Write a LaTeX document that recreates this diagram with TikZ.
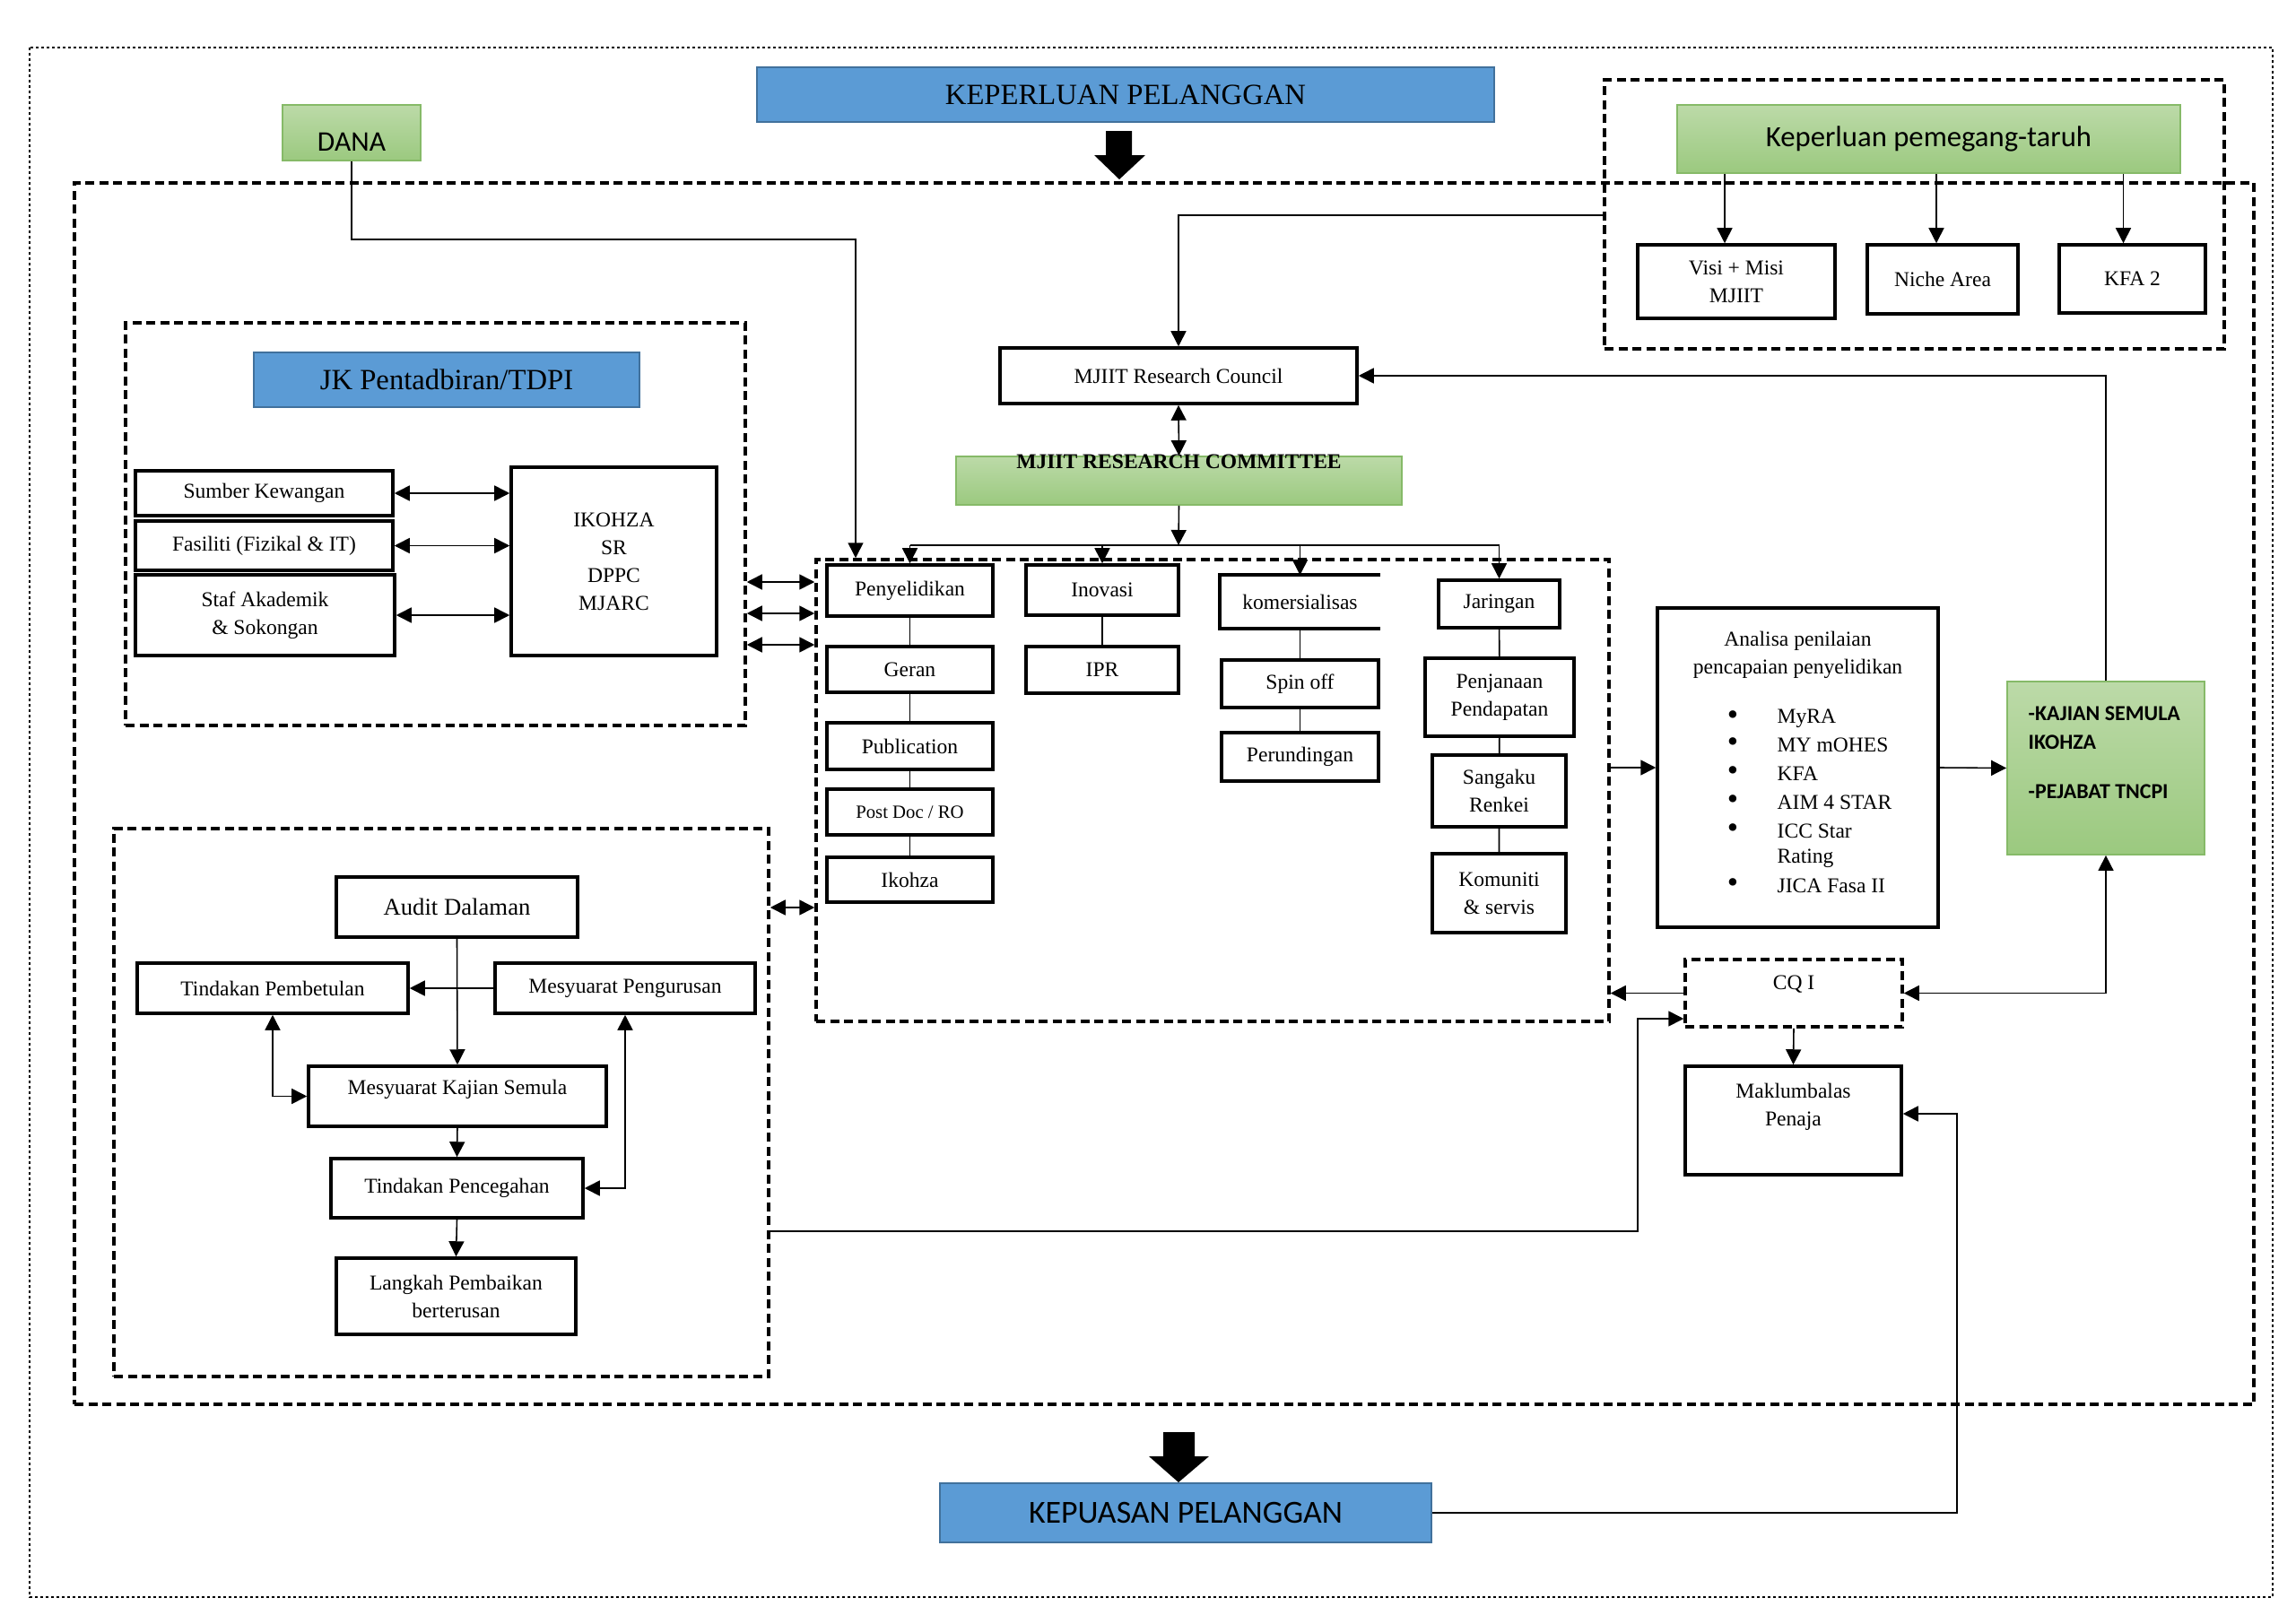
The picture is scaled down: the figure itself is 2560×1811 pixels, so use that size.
\documentclass[tikz,border=0pt]{standalone}
\usepackage{fontspec}
\setmainfont{Liberation Serif}
\newfontfamily\calibri{Carlito}
\usetikzlibrary{arrows.meta, positioning, calc}
\definecolor{titleBlue}{RGB}{91,155,213}
\definecolor{titleBlueLine}{RGB}{65,113,156}
\definecolor{greenTop}{RGB}{188,218,168}
\definecolor{greenBot}{RGB}{155,201,127}
\definecolor{greenLine}{RGB}{134,186,104}
\newcommand{\txt}{\fontsize{6.7}{8.8}\selectfont}
\newcommand{\txtBig}{\fontsize{9.3}{11}\selectfont}
\tikzstyle{box}=[draw=black, line width=1pt, inner sep=1pt, align=center, font=\txt]
\tikzstyle{blueBox}=[fill=titleBlue, draw=titleBlueLine, line width=0.5pt, font=\txtBig]
\tikzstyle{greenBox}=[top color=greenTop, bottom color=greenBot, draw=greenLine, line width=0.5pt]
\tikzstyle{groupBox}=[draw=black, line width=1pt, dash pattern=on 1mm off 0.55mm]
\tikzstyle{conn}=[line width=0.45pt]
\tikzstyle{arrow}=[conn, -{Triangle[length=1.7mm, width=1.7mm]}]
\tikzstyle{biarrow}=[conn, {Triangle[length=1.7mm, width=1.7mm]}-{Triangle[length=1.7mm, width=1.7mm]}]
\begin{document}
\begin{tikzpicture}[x=0.1mm, y=-0.1mm]
      \useasboundingbox (0,0) rectangle (2560,1811);
      % outer frame
      \draw[line width=0.4pt, dash pattern=on 0.3mm off 0.3mm] (33,53) rectangle (2534,1781);

      % dashed groups
      \node[groupBox, minimum width=243mm, minimum height=136.2mm] (main) at (1298,885) {};
      \node[groupBox, minimum width=69.1mm, minimum height=30mm] (stakeGroup) at (2134.5,239) {};
      \node[groupBox, minimum width=69.1mm, minimum height=44.9mm] (jkGroup) at (485.5,584.5) {};
      \node[groupBox, minimum width=88.4mm, minimum height=51.5mm] (research) at (1352,881.5) {};
      \node[groupBox, minimum width=73mm, minimum height=61.1mm] (review) at (492,1229.5) {};

      % titles
      \node[blueBox, minimum width=82.2mm, minimum height=6.1mm] (need) at (1255,105.5) {KEPERLUAN PELANGGAN};
      \node[blueBox, minimum width=43mm, minimum height=6.1mm] (jkTitle) at (498,423.5) {JK Pentadbiran/TDPI};
      \node[blueBox, minimum width=54.8mm, minimum height=6.6mm, font=\calibri\fontsize{10.2}{12}\selectfont] (satisfy) at (1322,1687) {KEPUASAN PELANGGAN};
      \fill (1233,146) -- (1262,146) -- (1262,173) -- (1277,173) -- (1248,200) -- (1220,173) -- (1233,173) -- cycle;
      \fill (1297,1597) -- (1332,1597) -- (1332,1624) -- (1348,1624) -- (1314,1653) -- (1281,1624) -- (1297,1624) -- cycle;

      \node[greenBox, minimum width=15.4mm, minimum height=6.2mm] (dana) at (392,148) {};
      \node[font=\calibri\fontsize{9}{11}\selectfont] (danaText) at ([yshift=-1mm]dana.center) {DANA};
      \node[greenBox, minimum width=56.1mm, minimum height=7.6mm, font=\calibri\txtBig] (stake) at (2150.5,155) {Keperluan pemegang-taruh};

      % stakeholder needs
      \node[box, minimum width=22mm, minimum height=8.2mm] (visi) at (1936,314) {Visi + Misi\\MJIIT};
      \node[box, minimum width=16.8mm, minimum height=7.7mm] (niche) at (2166,311.5) {Niche Area};
      \node[box, minimum width=16.3mm, minimum height=7.6mm] (kfa) at (2377.5,311) {KFA 2};
      \foreach \n/\dx in {visi/-1.3mm, niche/-0.7mm, kfa/-1mm}
        \draw[arrow] ([xshift=\dx]stake.south -| \n.north) -- ([xshift=\dx]\n.north);

      % council and committee
      \node[box, minimum width=39.8mm, minimum height=6.2mm] (council) at (1314,419) {MJIIT Research Council};
      \node[greenBox, minimum width=49.7mm, minimum height=5.4mm] (committee) at (1314.5,536) {};
      \node[font=\txt\bfseries] (committeeText) at ([yshift=-0.7mm]committee.north) {MJIIT RESEARCH COMMITTEE};
      \draw[biarrow] (council.south) -- (committee.north);
      \draw[arrow] (stakeGroup.west |- 0,240) -| (council.north);

      % JK Pentadbiran
      \node[box, minimum width=28.7mm, minimum height=5mm] (sumber) at (294.5,550) {Sumber Kewangan};
      \node[box, minimum width=28.7mm, minimum height=5.5mm] (fasiliti) at (294.5,608.5) {Fasiliti (Fizikal \& IT)};
      \node[box, minimum width=28.9mm, minimum height=9mm] (staf) at (295.5,686) {Staf Akademik\\\& Sokongan};
      \node[box, minimum width=22.9mm, minimum height=21mm] (ikohza) at (684.5,626) {IKOHZA\\SR\\DPPC\\MJARC};
      \foreach \n in {sumber, fasiliti, staf}
        \draw[biarrow] (\n.east) -- (ikohza.west |- \n.east);
      \foreach \yy in {649, 684, 719}
        \draw[biarrow] (jkGroup.east |- 0,\yy) -- (research.west |- 0,\yy);

      % research activities
      \node[box, minimum width=18.5mm, minimum height=5.7mm] (penyelidikan) at (1014.5,658.5) {Penyelidikan};
      \node[box, minimum width=18.5mm, minimum height=5.1mm] (geran) at (1014.5,746.5) {Geran};
      \node[box, minimum width=18.5mm, minimum height=5.2mm] (publication) at (1014.5,832) {Publication};
      \node[box, minimum width=18.5mm, minimum height=5.1mm, font=\fontsize{5.9}{7}\selectfont] (postdoc) at (1014.5,905.5) {Post Doc / RO};
      \node[box, minimum width=18.5mm, minimum height=5mm] (ikohzaBox) at (1014.5,981) {Ikohza};
      \node[box, minimum width=17mm, minimum height=5.6mm] (inovasi) at (1229,658) {Inovasi};
      \node[box, minimum width=17mm, minimum height=5.2mm] (ipr) at (1229,747) {IPR};
      \node[box, draw=none, minimum width=17.5mm, minimum height=5.6mm] (komersial) at (1449.5,671) {komersialisas};
      \draw[line width=1pt] (komersial.north east) -- (komersial.north west) -- (komersial.south west) -- (komersial.south east);
      \node[box, minimum width=17.5mm, minimum height=5.3mm] (spinoff) at (1449.5,762.5) {Spin off};
      \node[box, minimum width=17.5mm, minimum height=5.4mm] (perundingan) at (1449.5,844) {Perundingan};
      \node[box, minimum width=13.5mm, minimum height=5.3mm] (jaringan) at (1671.5,673.5) {Jaringan};
      \node[box, minimum width=16.6mm, minimum height=8.7mm] (penjanaan) at (1672,777.5) {Penjanaan\\Pendapatan};
      \node[box, minimum width=14.9mm, minimum height=8mm] (sangaku) at (1671.5,882) {Sangaku\\Renkei};
      \node[box, minimum width=14.9mm, minimum height=8.8mm] (komuniti) at (1671.5,996) {Komuniti\\\& servis};
      \draw[conn] (penyelidikan) -- (geran) -- (publication) -- (postdoc) -- (ikohzaBox);
      \draw[conn] (inovasi) -- (ipr);
      \draw[conn] (komersial) -- (spinoff) -- (perundingan);
      \draw[conn] (jaringan) -- (penjanaan) -- (sangaku) -- (komuniti);

      \coordinate (fan) at (1314,608);
      \draw[arrow] (committee.south) -- (fan);
      \draw[conn] (penyelidikan.north |- fan) -- (jaringan.north |- fan);
      \foreach \n in {penyelidikan, inovasi, komersial, jaringan}
        \draw[arrow] (\n.north |- fan) -- (\n.north);
      \draw[arrow] (dana.south) -- ++(0,87) -| (954,0 |- research.north);

      % review loop
      \node[box, minimum width=26.9mm, minimum height=6.7mm, font=\fontsize{7.6}{9}\selectfont] (audit) at (509.5,1011.5) {Audit Dalaman};
      \node[box, minimum width=30.2mm, minimum height=5.6mm] (pembetulan) at (304,1102) {Tindakan Pembetulan};
      \node[box, minimum width=29mm, minimum height=5.6mm] (pengurusan) at (697,1102) {Mesyuarat Pengurusan};
      \node[box, minimum width=33.2mm, minimum height=6.7mm] (meetReview) at (510,1222.5) {};
      \node[font=\txt] (meetReviewText) at ([yshift=0.8mm]meetReview.center) {Mesyuarat Kajian Semula};
      \node[box, minimum width=28.1mm, minimum height=6.6mm] (pencegahan) at (509.5,1325) {Tindakan Pencegahan};
      \node[box, minimum width=26.7mm, minimum height=8.5mm] (langkah) at (508.5,1445.5) {Langkah Pembaikan\\berterusan};
      \draw[arrow] (audit.south) -- (meetReview.north);
      \draw[arrow] (pengurusan.west) -- (pembetulan.east);
      \draw[biarrow] (pembetulan.south) |- (meetReview.west);
      \draw[biarrow] (pengurusan.south) |- (pencegahan.east);
      \draw[arrow] (meetReview.south) -- (pencegahan.north);
      \draw[arrow] (pencegahan.south) -- (langkah.north);
      \draw[biarrow] (review.east |- 0,1012) -- (research.west |- 0,1012);

      % evaluation
      \node[box, minimum width=31.3mm, minimum height=35.6mm] (analisa) at (2004.5,856) {};
      \node[font=\txt, align=center] (analisaHead) at (2004.5,730) {Analisa penilaian\\pencapaian penyelidikan};
      \foreach \yy/\item in {801/MyRA, 831/MY mOHES, 863/KFA, 895/AIM 4 STAR, 927/ICC Star, 988/JICA Fasa II} {
        \node[font=\fontsize{10}{10}\selectfont, inner sep=0pt] (b\yy) at (1932,\yy) {\textbullet};
        \node[font=\txt, anchor=west, inner sep=0pt] (i\yy) at (1981,\yy) {\item};
      }
      \node[font=\txt, anchor=west, inner sep=0pt] (rating) at (1981,957) {Rating};
      \node[greenBox, minimum width=22mm, minimum height=19.3mm] (office) at (2348,856.5) {};
      \node[font=\calibri\bfseries\fontsize{6.8}{9}\selectfont, align=left, anchor=north west, inner sep=0pt] (officeText) at (2261,787) {-KAJIAN SEMULA\\IKOHZA\\[2.4mm]-PEJABAT TNCPI};
      \draw[arrow] (research.east |- analisa.west) -- (analisa.west);
      \draw[arrow] (analisa.east) -- (office.west);
      \draw[arrow] (office.north) |- (council.east);

      % feedback
      \node[box, dash pattern=on 1mm off 0.55mm, minimum width=24.2mm, minimum height=7.5mm] (cqi) at (2000,1107.5) {};
      \node[font=\txt] (cqiText) at ([yshift=1mm]cqi.center) {CQ I};
      \node[box, minimum width=24.1mm, minimum height=12.1mm] (makl) at (1999.5,1249.5) {};
      \node[font=\txt, align=center] (maklText) at ([yshift=1.5mm]makl.center) {Maklumbalas\\Penaja};
      \draw[arrow] (cqi.west) -- (research.east |- cqi.west);
      \draw[biarrow] (office.south) |- (cqi.east);
      \draw[arrow] (cqi.south) -- (makl.north);
      \coordinate (cqiBend) at (1826,1136);
      \draw[arrow] (review.east |- 0,1373) -| (cqiBend) -- (cqi.west |- cqiBend);
      \coordinate (maklBend) at (2182,1242);
      \draw[arrow] (satisfy.east) -| (maklBend) -- (makl.east |- maklBend);
    \end{tikzpicture}
\end{document}
